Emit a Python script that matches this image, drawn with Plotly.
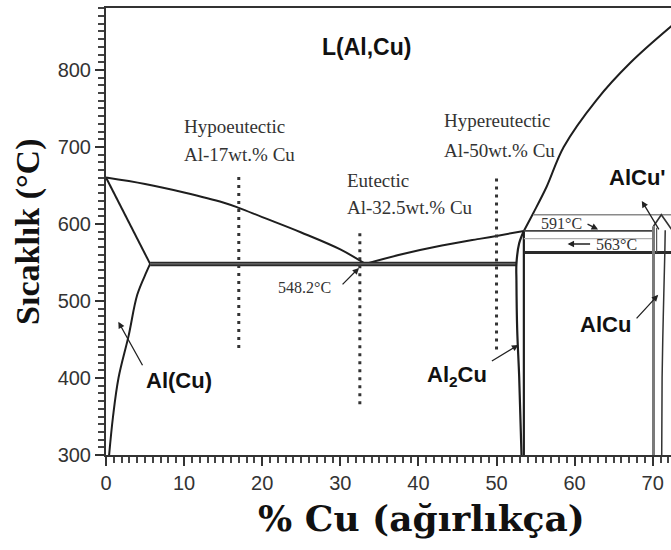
import plotly.graph_objects as go

# --- Al-Cu phase diagram data (wt.% Cu, temperature in deg C) ---
liq_al_wt = [0, 5, 10, 15, 17, 20, 25, 30, 33.2]
liq_al_t = [660.4, 652, 641, 628, 621, 609, 589, 567, 548.2]

liq_mid_wt = [33.2, 38, 43, 48, 50, 53.5]
liq_mid_t = [548.2, 561, 572, 581, 584.5, 591]

liq_cu_wt = [53.5, 54.7, 56.4, 58.6, 62.8, 67.1, 72.4]
liq_cu_t = [591, 614, 648, 700, 761, 809, 857]

solidus_wt = [0, 5.65]
solidus_t = [660.4, 548.2]

solvus_wt = [5.65, 5.2, 4.0, 2.9, 1.6, 0.9, 0.4]
solvus_t = [548.2, 538, 508, 455, 400, 350, 300]

eutectic_wt = [5.65, 52.55]
eutectic_t = [548.2, 548.2]

theta_left_wt = [53.5, 52.9, 52.55, 52.55, 52.65, 52.9, 53.2]
theta_left_t = [591, 575, 548.2, 527, 462, 402, 300]
theta_right_wt = [53.5, 53.5]
theta_right_t = [591, 300]

peritectic_wt = [53.5, 70.1]
peritectic_t = [591, 591]
upper_wt = [54.7, 72.4]
upper_t = [612, 612]
faint_wt = [53.5, 70.1]
faint_t = [581, 581]
eutectoid_wt = [53.5, 72.4]
eutectoid_t = [563, 563]

eta_peak_wt = [70.1, 71.1, 72.0, 72.4]
eta_peak_t = [597, 612, 599, 593]
eta_left_wt = [70.1, 70.1]
eta_left_t = [300, 597]
eta_inner_wt = [70.5, 70.5]
eta_inner_t = [563, 595]
eta_right_wt = [71.15, 71.2, 71.35, 71.55, 71.6]
eta_right_t = [300, 400, 480, 563, 592]

# studied alloy compositions (dotted guides)
alloy_wt = [17, 32.5, 50]
alloy_t_top = [661, 588, 659]
alloy_t_bot = [436, 361, 434]

X_RANGE = [0, 72.34]
Y_RANGE = [300, 880.5]

DARK = "#1e1e1e"
fig = go.Figure()


def add_line(wt, t, color=DARK, width=2.0, dash=None, smooth=False):
    line = dict(color=color, width=width, dash=dash)
    if smooth:
        line.update(shape="spline", smoothing=1.0)
    fig.add_trace(go.Scatter(x=wt, y=t, mode="lines", line=line,
                             hoverinfo="skip", showlegend=False))


add_line(liq_al_wt, liq_al_t, smooth=True)
add_line(liq_mid_wt, liq_mid_t, smooth=True)
add_line(liq_cu_wt, liq_cu_t, smooth=True)
add_line(solidus_wt, solidus_t)
add_line(solvus_wt, solvus_t, smooth=True)
# eutectic isotherm drawn as a heavy double line
add_line(eutectic_wt, eutectic_t, color="#2a2a2a", width=4.5)
add_line(eutectic_wt, eutectic_t, color="#808080", width=1)
add_line(theta_left_wt, theta_left_t, width=2.2, smooth=True)
add_line(theta_right_wt, theta_right_t, width=2.2)
add_line(peritectic_wt, peritectic_t, color="#444444", width=1.6)
add_line(upper_wt, upper_t, color="#8a8a8a", width=1.4)
add_line(faint_wt, faint_t, color="#b0b0b0", width=1.2)
add_line(eutectoid_wt, eutectoid_t, color="#2a2a2a", width=3)
add_line(eta_left_wt, eta_left_t, color="#7a7a7a", width=3)
add_line(eta_inner_wt, eta_inner_t, color="#555555", width=1.2)
add_line(eta_peak_wt, eta_peak_t, color="#333333", width=1.6)
add_line(eta_right_wt, eta_right_t, color="#333333", width=1.5, smooth=True)

for wt, t0, t1 in zip(alloy_wt, alloy_t_top, alloy_t_bot):
    add_line([wt, wt], [t0, t1], color="#333333", width=3, dash="3px,5px")

ann = []
SANS = "Liberation Sans"
SERIF = "Liberation Serif"


def label(text, x, y, size=22, family=SANS, weight="bold", xanchor="center", color="#111111"):
    ann.append(dict(text=text, x=x, y=y, xref="x", yref="y", showarrow=False,
                    xanchor=xanchor, yanchor="middle",
                    font=dict(family=family, size=size, color=color, weight=weight)))


def arrow(x, y, ax, ay):
    ann.append(dict(text="", x=x, y=y, xref="x", yref="y", ax=ax, ay=ay,
                    showarrow=True, arrowhead=2, arrowsize=1, arrowwidth=1.3,
                    arrowcolor="#222222"))


label("L(Al,Cu)", 33.4, 830, size=23)
label("Al(Cu)", 9.35, 397, size=22)
label("Al<sub>2</sub>Cu", 44.9, 403, size=22)
label("AlCu", 64.0, 470, size=22)
label("AlCu'", 68.0, 660, size=22)

NOTE = dict(size=19, family=SERIF, weight="normal", xanchor="left", color="#333333")
label("Hypoeutectic", 9.7, 727, **NOTE)
label("Al-17wt.% Cu", 9.7, 690, **NOTE)
label("Eutectic", 30.6, 657, **NOTE)
label("Al-32.5wt.% Cu", 30.6, 622, **NOTE)
label("Hypereutectic", 43.0, 735, **NOTE)
label("Al-50wt.% Cu", 43.0, 696, **NOTE)
TEMP = dict(size=16, family=SERIF, weight="normal", color="#333333")
label("591°C", 58.3, 601, **TEMP)
label("563°C", 65.4, 573, **TEMP)
label("548.2°C", 25.4, 517, **TEMP)

arrow(1.58, 473, 25, 45)
arrow(52.8, 443, -28, 17)
arrow(70.7, 508, -23, 25)
arrow(68.6, 630, 18, 30)
arrow(32.4, 543, -18, 18)
arrow(63.0, 593, -12, -6)
arrow(59.1, 574, 24, 0)

# axis titles
ann.append(dict(text="% Cu (ağırlıkça)", x=0.559, y=-0.141, xref="paper", yref="paper",
                showarrow=False, xanchor="center", yanchor="middle",
                font=dict(family="DejaVu Serif", size=36, color="#111111", weight="bold")))
ann.append(dict(text="Sıcaklık (°C)", x=-0.139, y=0.5, xref="paper", yref="paper",
                showarrow=False, xanchor="center", yanchor="middle", textangle=-90,
                font=dict(family=SERIF, size=34, color="#111111", weight="bold")))

# white grid on a white background keeps the plot area clean
axis_common = dict(showline=True, linecolor="#333333", linewidth=2,
                   gridcolor="white", zeroline=False,
                   ticks="outside", ticklen=9, tickwidth=2, tickcolor="#333333",
                   tickfont=dict(family=SANS, size=20, color="#333333"))

fig.update_layout(
    width=671, height=550,
    margin=dict(l=106, r=0, t=8, b=95),
    paper_bgcolor="white", plot_bgcolor="white",
    annotations=ann,
    hovermode=False,
    xaxis=dict(range=X_RANGE, dtick=10, mirror=True,
               minor=dict(dtick=1, ticks="outside", ticklen=6, tickwidth=2,
                          tickcolor="#444444"),
               **axis_common),
    yaxis=dict(range=Y_RANGE, dtick=100,
               minor=dict(dtick=10, ticks="outside", ticklen=6, tickwidth=2,
                          tickcolor="#444444"),
               **axis_common),
)

fig.write_html("out.html")
